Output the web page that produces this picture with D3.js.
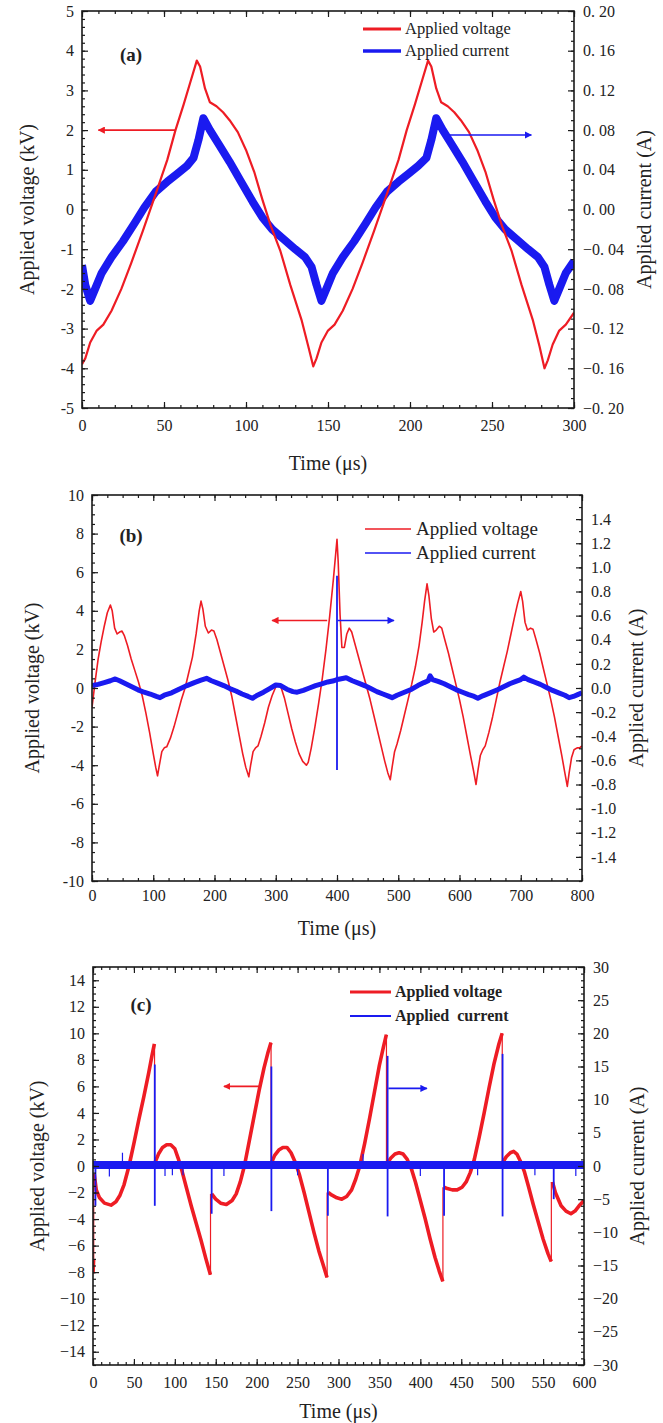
<!DOCTYPE html>
<html><head><meta charset="utf-8">
<script src="https://cdn.jsdelivr.net/npm/d3@7"></script>
<style>body{margin:0;background:#fff} svg{display:block}</style>
</head><body><svg id="c" width="663" height="1423"></svg>
<script>
// ---------- DATA ----------
// Panel (a): time (µs), voltage (kV), current (A)
const voltageA = [[0,-3.9],[2,-3.75],[5,-3.35],[9,-3.05],[13,-2.9],[18,-2.55],[24,-2.0],[30,-1.35],[37,-0.55],[45,0.4],[52,1.25],[57,2.0],[62,2.65],[66,3.2],[70,3.75],[72,3.6],[75,3.05],[78,2.7],[82,2.6],[86,2.45],[90,2.25],[95,1.95],[100,1.5],[105,0.95],[110,0.25],[115,-0.4],[121,-1.05],[127,-1.9],[134,-2.8],[138,-3.45],[141,-3.95],[143,-3.75],[146,-3.35],[150,-3.05],[154,-2.9],[159,-2.55],[165,-2.0],[171,-1.35],[178,-0.55],[186,0.4],[193,1.25],[198,2.0],[203,2.65],[207,3.2],[211,3.75],[213,3.6],[216,3.05],[219,2.7],[223,2.6],[227,2.45],[231,2.25],[236,1.95],[241,1.5],[246,0.95],[251,0.25],[256,-0.4],[262,-1.05],[268,-1.9],[275,-2.8],[279,-3.45],[282,-4.0],[284,-3.8],[287,-3.4],[291,-3.05],[295,-2.9],[300,-2.6]];
const currentA = [[0,-0.056],[2,-0.076],[5,-0.092],[8,-0.080],[12,-0.064],[18,-0.048],[25,-0.032],[32,-0.014],[38,0.002],[45,0.018],[52,0.028],[58,0.036],[64,0.044],[68,0.052],[71,0.070],[74,0.092],[78,0.080],[84,0.064],[90,0.048],[97,0.028],[104,0.008],[110,-0.008],[116,-0.020],[123,-0.030],[130,-0.040],[136,-0.048],[140,-0.058],[143,-0.076],[146,-0.092],[149,-0.080],[153,-0.064],[159,-0.048],[166,-0.032],[173,-0.014],[179,0.002],[186,0.018],[193,0.028],[199,0.036],[205,0.044],[210,0.052],[213,0.070],[216,0.092],[220,0.080],[226,0.064],[232,0.048],[239,0.028],[246,0.008],[252,-0.008],[258,-0.020],[265,-0.030],[272,-0.040],[278,-0.048],[282,-0.058],[285,-0.076],[288,-0.092],[291,-0.080],[295,-0.064],[300,-0.052]];

// Panel (b)
const voltageB = [[0,-1.0],[5,0.3],[10,1.5],[15,2.4],[20,3.2],[25,3.9],[30,4.3],[33,4.0],[37,3.1],[41,2.8],[45,2.9],[49,2.95],[53,2.7],[58,2.2],[64,1.5],[70,0.9],[76,0.3],[82,-0.4],[88,-1.3],[94,-2.3],[100,-3.4],[104,-4.1],[107,-4.55],[110,-4.0],[114,-3.3],[118,-3.1],[122,-3.05],[128,-2.6],[134,-2.0],[140,-1.3],[146,-0.6],[152,0.0],[158,0.8],[164,1.6],[170,2.8],[175,4.0],[178,4.5],[181,4.1],[185,3.2],[190,2.85],[195,3.0],[199,2.95],[204,2.5],[210,1.8],[216,1.1],[222,0.4],[228,-0.4],[234,-1.4],[240,-2.4],[246,-3.4],[251,-4.1],[256,-4.6],[259,-4.0],[263,-3.3],[267,-3.1],[271,-3.0],[276,-2.5],[282,-1.8],[288,-1.0],[294,-0.4],[300,0.05],[305,0.15],[309,0.0],[314,-0.5],[320,-1.3],[326,-2.1],[332,-2.8],[338,-3.4],[344,-3.8],[350,-4.0],[353,-3.85],[358,-3.1],[364,-2.0],[370,-0.8],[376,0.5],[382,2.0],[388,3.7],[394,5.6],[398,7.0],[400,7.7],[402,6.5],[405,3.8],[408,2.1],[412,2.1],[416,2.8],[420,3.1],[424,2.9],[430,2.2],[436,1.5],[442,0.8],[448,0.1],[454,-0.6],[460,-1.4],[466,-2.2],[472,-3.0],[478,-3.8],[483,-4.4],[487,-4.75],[490,-4.1],[494,-3.3],[498,-2.9],[504,-2.2],[510,-1.4],[516,-0.6],[522,0.2],[528,1.1],[534,2.2],[539,3.4],[543,4.5],[547,5.4],[550,4.8],[554,3.6],[558,2.9],[562,3.0],[567,3.2],[571,3.1],[576,2.5],[582,1.8],[588,1.0],[594,0.2],[600,-0.6],[606,-1.5],[612,-2.5],[618,-3.5],[623,-4.3],[627,-5.0],[630,-4.3],[634,-3.5],[638,-3.2],[642,-3.0],[648,-2.3],[654,-1.5],[660,-0.6],[666,0.3],[672,1.1],[678,1.9],[684,2.8],[690,3.7],[695,4.4],[700,5.0],[703,4.5],[707,3.4],[711,3.0],[716,3.1],[720,3.05],[725,2.5],[731,1.8],[737,1.0],[743,0.2],[749,-0.6],[755,-1.5],[761,-2.5],[767,-3.5],[772,-4.4],[776,-5.1],[779,-4.4],[783,-3.6],[787,-3.2],[792,-3.1],[796,-3.1],[800,-3.0]];
const currentB = [[0,0.02],[10,0.03],[20,0.045],[30,0.06],[38,0.075],[45,0.06],[55,0.035],[65,0.01],[75,-0.015],[85,-0.035],[95,-0.05],[105,-0.07],[111,-0.08],[118,-0.06],[130,-0.04],[142,-0.01],[155,0.02],[167,0.045],[178,0.065],[187,0.08],[195,0.06],[205,0.04],[215,0.02],[225,-0.005],[235,-0.025],[245,-0.05],[255,-0.07],[262,-0.085],[270,-0.06],[280,-0.035],[290,-0.005],[300,0.025],[308,0.02],[318,-0.01],[328,-0.03],[335,-0.035],[345,-0.02],[355,0.0],[365,0.02],[375,0.035],[385,0.05],[395,0.06],[400,0.07],[405,0.075],[415,0.085],[425,0.06],[435,0.04],[445,0.02],[455,-0.005],[465,-0.03],[475,-0.05],[483,-0.065],[490,-0.08],[498,-0.06],[510,-0.035],[522,-0.01],[532,0.02],[542,0.045],[549,0.06],[552,0.1],[556,0.07],[565,0.055],[575,0.035],[585,0.01],[595,-0.015],[605,-0.035],[615,-0.055],[624,-0.07],[630,-0.085],[638,-0.065],[650,-0.04],[662,-0.015],[672,0.01],[682,0.035],[692,0.055],[700,0.07],[705,0.09],[712,0.07],[722,0.05],[732,0.03],[742,0.005],[752,-0.02],[762,-0.04],[772,-0.06],[779,-0.08],[786,-0.07],[793,-0.055],[800,-0.04]];
const spikesB = [[400,-0.68,0.93]];

// Panel (c)  (null marks a break: the vertical jump is drawn thin from jumpsC)
const voltageC = [[0,-8.1],[0.8,-7.0],[0.9,null],
[1.5,-0.6],[4,-1.8],[8,-2.4],[14,-2.8],[22,-2.95],[28,-2.7],[33,-2.2],[38,-1.4],[44,0],[50,1.7],[56,3.5],[62,5.2],[68,7.0],[72,8.3],[75,9.2],[75.2,null],
[76,0.3],[80,0.9],[85,1.4],[90,1.6],[95,1.6],[100,1.3],[104,0.6],[108,-0.2],[114,-1.6],[120,-3.0],[126,-4.3],[132,-5.6],[138,-7.0],[143.5,-8.2],[143.7,null],
[145,-2.1],[150,-2.5],[156,-2.8],[163,-2.9],[170,-2.6],[175,-2.1],[180,-1.2],[185,0],[191,1.9],[197,3.8],[203,5.7],[209,7.4],[214,8.6],[217.5,9.3],[217.7,null],
[218.5,0.3],[222,0.8],[227,1.2],[232,1.4],[237,1.4],[242,1.0],[247,0.3],[252,-0.6],[258,-2.0],[264,-3.5],[270,-5.0],[276,-6.4],[282,-7.6],[286,-8.4],[286.2,null],
[287.5,-2.0],[292,-2.2],[298,-2.4],[304,-2.5],[310,-2.3],[316,-1.8],[321,-1.0],[326,0],[332,1.7],[338,3.6],[344,5.6],[350,7.6],[355,9.0],[358.5,9.9],[358.7,null],
[359.5,0.2],[364,0.6],[369,0.9],[374,1.0],[379,0.9],[384,0.5],[389,-0.2],[394,-1.2],[400,-2.6],[406,-4.0],[412,-5.5],[418,-6.9],[423,-7.9],[427.5,-8.7],[427.7,null],
[429,-1.6],[433,-1.7],[439,-1.8],[445,-1.8],[451,-1.6],[456,-1.2],[461,-0.5],[466,0.5],[472,2.2],[478,4.0],[484,5.9],[490,7.7],[496,9.2],[500,10.0],[500.2,null],
[501,0.3],[505,0.7],[510,1.0],[514,1.1],[518,0.9],[522,0.4],[527,-0.4],[532,-1.5],[538,-2.9],[544,-4.2],[550,-5.5],[556,-6.6],[560,-7.2],[560.2,null],
[561.5,-1.2],[565,-2.0],[572,-3.0],[578,-3.4],[584,-3.6],[589,-3.4],[594,-3.0],[600,-2.6]];
const jumpsC = [[0.9,-7.0,-0.6],[75.2,9.2,0.3],[143.6,-8.2,-2.1],[217.6,9.3,0.3],[286.1,-8.4,-2.0],[358.6,9.9,0.2],[427.6,-8.7,-1.6],[500.1,10.0,0.3],[560.1,-7.2,-1.2]];
const currentC = [[0,0.15],[600,0.15]];
const spikesC = [[3,-6.0,0.15],[75.5,-6.0,15.3],[145,-7.2,0.15],[218,-6.8,15.0],[287,-7.5,0.15],[360,-7.6,16.6],[429,-7.5,0.15],[500.5,-7.6,16.9],[563,-5.0,0.15]];
const smallSpikesC = [[20,-1.6],[36,2.0],[88,-1.5],[97,-1.4],[110,-1.4],[160,-1.5],[250,-1.4],[330,1.8],[400,-1.5],[470,-1.4],[540,-1.4],[590,-1.5]];

// Tick labels
const xTicksA = [0,50,100,150,200,250,300];
const yLTicksA = [-5,-4,-3,-2,-1,0,1,2,3,4,5];
const yRTicksA = [-0.20,-0.16,-0.12,-0.08,-0.04,0,0.04,0.08,0.12,0.16,0.20];
const xTicksB = [0,100,200,300,400,500,600,700,800];
const yLTicksB = [-10,-8,-6,-4,-2,0,2,4,6,8,10];
const yRTicksB = [-1.4,-1.2,-1.0,-0.8,-0.6,-0.4,-0.2,0,0.2,0.4,0.6,0.8,1.0,1.2,1.4];
const xTicksC = [0,50,100,150,200,250,300,350,400,450,500,550,600];
const yLTicksC = [-14,-12,-10,-8,-6,-4,-2,0,2,4,6,8,10,12,14];
const yRTicksC = [-30,-25,-20,-15,-10,-5,0,5,10,15,20,25,30];

const legendLabels = ["Applied voltage","Applied current"];
const legendLabelsC = ["Applied voltage","Applied  current"];

// ---------- DRAW ----------
const FONT = "'Liberation Serif','Times New Roman',serif";
const RED = "#ee1c24", BLUE = "#1a1af0", INK = "#1a1a1a";
const svg = d3.select("#c");
svg.append("rect").attr("width",663).attr("height",1423).attr("fill","#fff");
const defs = svg.append("defs");
[["ahR",RED],["ahB",BLUE]].forEach(([id,c])=>{
  defs.append("marker").attr("id",id).attr("viewBox","0 0 10 10").attr("refX",9).attr("refY",5)
    .attr("markerWidth",4.5).attr("markerHeight",4.5).attr("orient","auto")
    .append("path").attr("d","M0,0L10,5L0,10z").attr("fill",c);
});

function makePanel(p){
  const g = svg.append("g");
  const x = d3.scaleLinear().domain(p.xDom).range([p.box.l,p.box.r]);
  const yL = d3.scaleLinear().domain(p.yLDom).range([p.box.b,p.box.t]);
  const yR = d3.scaleLinear().domain(p.yRDom).range([p.box.b,p.box.t]);
  defs.append("clipPath").attr("id","clip"+p.id).append("rect")
    .attr("x",p.box.l).attr("y",p.box.t).attr("width",p.box.r-p.box.l).attr("height",p.box.b-p.box.t);
  const plot = g.append("g").attr("clip-path",`url(#clip${p.id})`);
  const axes = g.append("g");
  function ax(gen,tr){
    const a = axes.append("g").attr("transform",tr).call(gen);
    a.select(".domain").remove();
    a.selectAll("line").attr("stroke",INK).attr("stroke-width",1.2);
    a.selectAll("text").attr("font-family",FONT).attr("font-size",16).attr("fill","#222");
    return a;
  }
  const B=p.box;
  ax(d3.axisBottom(x).tickValues(p.xTicks).tickSize(-6).tickPadding(p.xPad).tickFormat(d=>d),`translate(0,${B.b})`);
  ax(d3.axisBottom(x).tickValues(p.xMinor).tickSize(-3).tickFormat(""),`translate(0,${B.b})`);
  ax(d3.axisTop(x).tickValues(p.xTicks).tickSize(-6).tickFormat(""),`translate(0,${B.t})`);
  ax(d3.axisTop(x).tickValues(p.xMinor).tickSize(-3).tickFormat(""),`translate(0,${B.t})`);
  ax(d3.axisLeft(yL).tickValues(p.yLTicks).tickSize(-6).tickPadding(8).tickFormat(p.fmtL),`translate(${B.l},0)`);
  ax(d3.axisLeft(yL).tickValues(p.yLMinor).tickSize(-3).tickFormat(""),`translate(${B.l},0)`);
  ax(d3.axisRight(yR).tickValues(p.yRTicks).tickSize(-6).tickPadding(9).tickFormat(p.fmtR),`translate(${B.r},0)`);
  ax(d3.axisRight(yR).tickValues(p.yRMinor).tickSize(-3).tickFormat(""),`translate(${B.r},0)`);
  axes.append("rect").attr("x",B.l).attr("y",B.t).attr("width",B.r-B.l).attr("height",B.b-B.t)
    .attr("fill","none").attr("stroke",INK).attr("stroke-width",1.6);
  // titles
  const midY=(B.t+B.b)/2;
  g.append("text").attr("x",(B.l+B.r)/2).attr("y",p.titleY).attr("text-anchor","middle")
    .attr("font-family",FONT).attr("font-size",20).attr("fill","#222").text("Time (μs)");
  g.append("text").attr("transform",`translate(${p.leftTitleX},${midY}) rotate(-90)`).attr("text-anchor","middle")
    .attr("dy","0.35em").attr("font-family",FONT).attr("font-size",20).attr("fill","#222").text("Applied voltage (kV)");
  g.append("text").attr("transform",`translate(${p.rightTitleX},${midY}) rotate(-90)`).attr("text-anchor","middle")
    .attr("dy","0.35em").attr("font-family",FONT).attr("font-size",20).attr("fill","#222").text("Applied current (A)");
  return {x,yL,yR,plot,g};
}
const rng=(a,b,s)=>d3.range(Math.round(a/s),Math.round(b/s)+1).map(i=>+(i*s).toFixed(4));
const minus = s=>String(s).replace("-","−");

// ---- Panel (a)
const PA = makePanel({id:"a",box:{l:82,r:574,t:11,b:408},xDom:[0,300],yLDom:[-5,5],yRDom:[-0.2,0.2],
  xTicks:xTicksA,xMinor:rng(0,300,10),yLTicks:yLTicksA,yLMinor:rng(-5,5,0.2),yRTicks:yRTicksA,yRMinor:rng(-0.2,0.2,0.01),
  xPad:12,fmtL:d=>String(d),fmtR:d=>minus(d.toFixed(2).replace(".",". ")),titleY:470,leftTitleX:27,rightTitleX:644});
{
  const lV=d3.line().x(d=>PA.x(d[0])).y(d=>PA.yL(d[1]));
  const lC=d3.line().x(d=>PA.x(d[0])).y(d=>PA.yR(d[1]));
  PA.plot.append("path").attr("d",lC(currentA)).attr("fill","none").attr("stroke",BLUE).attr("stroke-width",8).attr("stroke-linejoin","round");
  PA.plot.append("path").attr("d",lV(voltageA)).attr("fill","none").attr("stroke",RED).attr("stroke-width",2.2).attr("stroke-linejoin","round");
  // arrows
  PA.g.append("line").attr("x1",PA.x(57)).attr("x2",PA.x(10)).attr("y1",PA.yL(2.0)).attr("y2",PA.yL(2.0))
    .attr("stroke",RED).attr("stroke-width",1.6).attr("marker-end","url(#ahR)");
  PA.g.append("line").attr("x1",PA.x(224)).attr("x2",PA.x(274)).attr("y1",PA.yR(0.075)).attr("y2",PA.yR(0.075))
    .attr("stroke",BLUE).attr("stroke-width",1.6).attr("marker-end","url(#ahB)");
  // legend
  [[RED,3,29],[BLUE,3.5,51]].forEach(([c,w,y],i)=>{
    PA.g.append("line").attr("x1",363).attr("x2",401).attr("y1",y).attr("y2",y).attr("stroke",c).attr("stroke-width",w);
    PA.g.append("text").attr("x",405).attr("y",y).attr("dy","0.33em").attr("font-family",FONT).attr("font-size",16.5).attr("fill","#222").text(legendLabels[i]);
  });
  PA.g.append("text").attr("x",131).attr("y",54).attr("dy","0.35em").attr("text-anchor","middle").attr("font-family",FONT)
    .attr("font-weight","bold").attr("font-size",19).attr("fill","#222").text("(a)");
}

// ---- Panel (b)
const PB = makePanel({id:"b",box:{l:92,r:582,t:495,b:881},xDom:[0,800],yLDom:[-10,10],yRDom:[-1.6,1.6],
  xTicks:xTicksB,xMinor:rng(0,800,25),yLTicks:yLTicksB,yLMinor:rng(-10,10,0.5),yRTicks:yRTicksB,yRMinor:rng(-1.6,1.6,0.1),
  xPad:9,fmtL:d=>String(d),fmtR:d=>d.toFixed(1),titleY:935,leftTitleX:32,rightTitleX:636});
{
  const lV=d3.line().x(d=>PB.x(d[0])).y(d=>PB.yL(d[1]));
  const lC=d3.line().x(d=>PB.x(d[0])).y(d=>PB.yR(d[1]));
  PB.plot.append("path").attr("d",lV(voltageB)).attr("fill","none").attr("stroke",RED).attr("stroke-width",1.6).attr("stroke-linejoin","round");
  PB.plot.append("path").attr("d",lC(currentB)).attr("fill","none").attr("stroke",BLUE).attr("stroke-width",5).attr("stroke-linejoin","round");
  PB.plot.selectAll(".spk").data(spikesB).join("line").attr("x1",d=>PB.x(d[0])).attr("x2",d=>PB.x(d[0]))
    .attr("y1",d=>PB.yR(d[1])).attr("y2",d=>PB.yR(d[2])).attr("stroke",BLUE).attr("stroke-width",1.8);
  PB.g.append("line").attr("x1",PB.x(384)).attr("x2",PB.x(294)).attr("y1",PB.yL(3.5)).attr("y2",PB.yL(3.5))
    .attr("stroke",RED).attr("stroke-width",1.6).attr("marker-end","url(#ahR)");
  PB.g.append("line").attr("x1",PB.x(401)).attr("x2",PB.x(493)).attr("y1",PB.yR(0.56)).attr("y2",PB.yR(0.56))
    .attr("stroke",BLUE).attr("stroke-width",1.6).attr("marker-end","url(#ahB)");
  [[RED,1.5,529],[BLUE,1.5,553]].forEach(([c,w,y],i)=>{
    PB.g.append("line").attr("x1",365).attr("x2",411).attr("y1",y).attr("y2",y).attr("stroke",c).attr("stroke-width",w);
    PB.g.append("text").attr("x",416).attr("y",y).attr("dy","0.33em").attr("font-family",FONT).attr("font-size",19).attr("fill","#222").text(legendLabels[i]);
  });
  PB.g.append("text").attr("x",131).attr("y",535).attr("dy","0.35em").attr("text-anchor","middle").attr("font-family",FONT)
    .attr("font-weight","bold").attr("font-size",19).attr("fill","#222").text("(b)");
}

// ---- Panel (c)
const PC = makePanel({id:"c",box:{l:93,r:584,t:967,b:1365},xDom:[0,600],yLDom:[-15,15],yRDom:[-30,30],
  xTicks:xTicksC,xMinor:rng(0,600,10),yLTicks:yLTicksC,yLMinor:rng(-15,15,0.5),yRTicks:yRTicksC,yRMinor:rng(-30,30,1),
  xPad:12,fmtL:d=>minus(d),fmtR:d=>minus(d),titleY:1418,leftTitleX:37,rightTitleX:637});
{
  const lV=d3.line().defined(d=>d[1]!==null).x(d=>PC.x(d[0])).y(d=>PC.yL(d[1]));
  const lC=d3.line().x(d=>PC.x(d[0])).y(d=>PC.yR(d[1]));
  PC.plot.append("path").attr("d",lV(voltageC)).attr("fill","none").attr("stroke",RED).attr("stroke-width",3.6).attr("stroke-linejoin","round");
  PC.plot.selectAll(".jmp").data(jumpsC).join("line").attr("x1",d=>PC.x(d[0])).attr("x2",d=>PC.x(d[0]))
    .attr("y1",d=>PC.yL(d[1])).attr("y2",d=>PC.yL(d[2])).attr("stroke",RED).attr("stroke-width",1.2);
  PC.plot.append("path").attr("d",lC(currentC)).attr("fill","none").attr("stroke",BLUE).attr("stroke-width",8);
  PC.plot.selectAll(".ss").data(smallSpikesC).join("line").attr("x1",d=>PC.x(d[0])).attr("x2",d=>PC.x(d[0]))
    .attr("y1",PC.yR(0.15)).attr("y2",d=>PC.yR(d[1])).attr("stroke",BLUE).attr("stroke-width",1.2);
  PC.plot.selectAll(".spk").data(spikesC).join("line").attr("x1",d=>PC.x(d[0])).attr("x2",d=>PC.x(d[0]))
    .attr("y1",d=>PC.yR(d[1])).attr("y2",d=>PC.yR(d[2])).attr("stroke",BLUE).attr("stroke-width",1.8);
  PC.g.append("line").attr("x1",PC.x(205)).attr("x2",PC.x(160)).attr("y1",PC.yL(6.0)).attr("y2",PC.yL(6.0))
    .attr("stroke",RED).attr("stroke-width",1.6).attr("marker-end","url(#ahR)");
  PC.g.append("line").attr("x1",PC.x(361)).attr("x2",PC.x(408)).attr("y1",PC.yR(11.7)).attr("y2",PC.yR(11.7))
    .attr("stroke",BLUE).attr("stroke-width",1.6).attr("marker-end","url(#ahB)");
  [[RED,3,992],[BLUE,2,1016]].forEach(([c,w,y],i)=>{
    PC.g.append("line").attr("x1",350).attr("x2",391).attr("y1",y).attr("y2",y).attr("stroke",c).attr("stroke-width",w);
    PC.g.append("text").attr("x",395).attr("y",y).attr("dy","0.33em").attr("font-family",FONT).attr("font-weight","bold")
      .attr("font-size",16).attr("fill","#222").style("white-space","pre").text(legendLabelsC[i]);
  });
  PC.g.append("text").attr("x",141).attr("y",1004).attr("dy","0.35em").attr("text-anchor","middle").attr("font-family",FONT)
    .attr("font-weight","bold").attr("font-size",19).attr("fill","#222").text("(c)");
}
</script></body></html>
